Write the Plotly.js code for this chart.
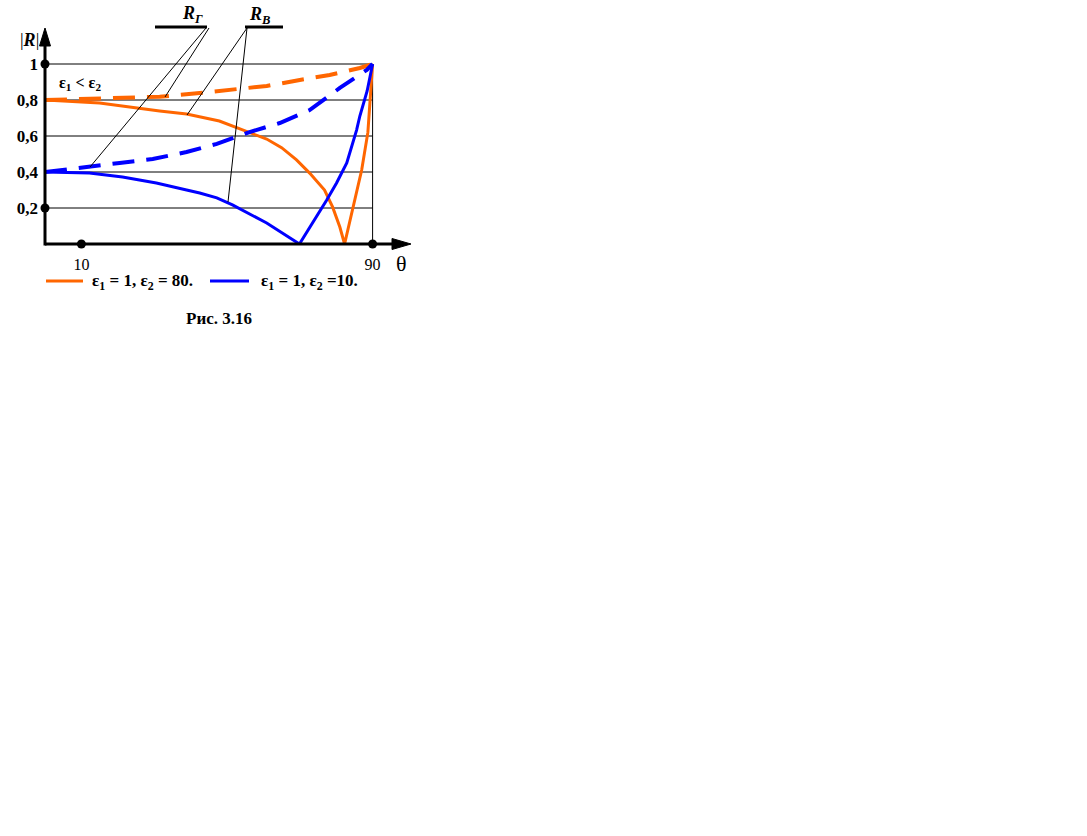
<!DOCTYPE html>
<html><head><meta charset="utf-8">
<script src="https://cdn.plot.ly/plotly-3.0.1.min.js"></script>
<style>html,body{margin:0;padding:0;background:#fff}#chart{width:1087px;height:836px}</style>
</head><body><div id="chart"></div>
<script>
// data (theta in degrees, |R|)
const thetaOrangeSolid = [0, 15, 31.5, 38.9, 47.9, 54.3, 60.9, 65, 69.1, 72.7, 76.8, 79, 81, 82.3, 84.5, 87, 88.7, 90];
const orangeSolid      = [0.8, 0.783, 0.739, 0.722, 0.683, 0.633, 0.583, 0.535, 0.467, 0.394, 0.30, 0.206, 0.094, 0, 0.189, 0.411, 0.62, 1.0];
const thetaOrangeDash  = [0, 15, 31.5, 42.5, 53.5, 60.9, 70, 78.2, 86.5, 90];
const orangeDash       = [0.8, 0.806, 0.818, 0.839, 0.861, 0.878, 0.911, 0.939, 0.978, 1.0];
const thetaBlueSolid   = [0, 12.2, 21.3, 30.6, 38.9, 42.5, 47.2, 51.5, 60.9, 69.9, 77.4, 80.1, 82.9, 85.6, 86.5, 88.5, 90];
const blueSolid        = [0.4, 0.394, 0.372, 0.339, 0.3, 0.283, 0.256, 0.217, 0.117, 0, 0.244, 0.339, 0.45, 0.633, 0.711, 0.85, 1.0];
const thetaBlueDash    = [0, 4.8, 10.3, 20.5, 29.6, 38.9, 47.2, 56.2, 64.5, 72.7, 81, 88.4, 90];
const blueDash         = [0.4, 0.411, 0.422, 0.45, 0.472, 0.511, 0.556, 0.622, 0.672, 0.744, 0.867, 0.967, 1.0];
const yTickVals = [0.2, 0.4, 0.6, 0.8, 1];
const yTickText = ['0,2', '0,4', '0,6', '0,8', '1'];
const xTickVals = [10, 90];
const xTickText = ['10', '90'];
const dotX = [0, 0, 10, 90];
const dotY = [1, 0.2, 0, 0];
const gridLevels = [0.2, 0.4, 0.6, 0.8, 1];
const legendOrange = 'ε<sub>1</sub> = 1, ε<sub>2</sub> = 80.';
const legendBlue = 'ε<sub>1</sub> = 1, ε<sub>2</sub> =10.';

const ORANGE = '#ff6600', BLUE = '#0000ff';
const FONT = 'Liberation Serif, Times New Roman, serif';
// pixel -> paper helpers (plot area: left 45, width 364, top 19, height 225)
const PX = p => (p - 45) / 364;
const PY = p => (244 - p) / 225;

const traces = [
  {x: thetaOrangeSolid, y: orangeSolid, mode: 'lines', line: {color: ORANGE, width: 3}, showlegend: false, hoverinfo: 'skip'},
  {x: thetaOrangeDash, y: orangeDash, mode: 'lines', line: {color: ORANGE, width: 4, dash: '22px,12px'}, showlegend: false, hoverinfo: 'skip'},
  {x: thetaBlueSolid, y: blueSolid, mode: 'lines', line: {color: BLUE, width: 3}, showlegend: false, hoverinfo: 'skip'},
  {x: thetaBlueDash, y: blueDash, mode: 'lines', line: {color: BLUE, width: 4, dash: '22px,12px'}, showlegend: false, hoverinfo: 'skip'},
  {x: dotX, y: dotY, mode: 'markers', marker: {color: 'black', size: 9}, cliponaxis: false, showlegend: false, hoverinfo: 'skip'}
];

const shapes = [];
gridLevels.forEach(v => shapes.push({type: 'line', xref: 'x', yref: 'y', x0: 0, x1: 90, y0: v, y1: v, line: {color: 'black', width: 1}, layer: 'below'}));
shapes.push({type: 'line', xref: 'x', yref: 'y', x0: 90, x1: 90, y0: 0, y1: 1, line: {color: 'black', width: 1}, layer: 'below'});
// axes with arrows
shapes.push({type: 'line', xref: 'paper', yref: 'paper', x0: PX(45), x1: PX(394), y0: PY(244), y1: PY(244), line: {color: 'black', width: 3}});
shapes.push({type: 'path', xref: 'paper', yref: 'paper', path: `M ${PX(392)} ${PY(238.5)} L ${PX(411)} ${PY(244)} L ${PX(392)} ${PY(249.5)} Z`, fillcolor: 'black', line: {color: 'black', width: 1}});
shapes.push({type: 'line', xref: 'paper', yref: 'paper', x0: PX(45), x1: PX(45), y0: PY(245.5), y1: PY(44), line: {color: 'black', width: 3}});
shapes.push({type: 'path', xref: 'paper', yref: 'paper', path: `M ${PX(39.5)} ${PY(46)} L ${PX(45)} ${PY(28)} L ${PX(50.5)} ${PY(46)} Z`, fillcolor: 'black', line: {color: 'black', width: 1}});
// leader labels
shapes.push({type: 'line', xref: 'paper', yref: 'paper', x0: PX(155), x1: PX(207), y0: PY(27), y1: PY(27), line: {color: 'black', width: 3}});
shapes.push({type: 'line', xref: 'paper', yref: 'paper', x0: PX(245), x1: PX(283), y0: PY(27), y1: PY(27), line: {color: 'black', width: 3}});
const leader = (ax, ay, bx, by) => shapes.push({type: 'line', xref: 'paper', yref: 'paper', x0: PX(ax), y0: PY(ay), x1: PX(bx), y1: PY(by), line: {color: 'black', width: 1}});
leader(206, 28, 90, 167);
leader(209, 28, 165, 97);
leader(247, 28, 187, 115);
leader(247, 28, 228, 202);
// legend samples
shapes.push({type: 'line', xref: 'paper', yref: 'paper', x0: PX(46), x1: PX(83), y0: PY(281), y1: PY(281), line: {color: ORANGE, width: 3}});
shapes.push({type: 'line', xref: 'paper', yref: 'paper', x0: PX(210), x1: PX(249), y0: PY(281), y1: PY(281), line: {color: BLUE, width: 3}});

const ann = (px, py, text, size, opts) => Object.assign({xref: 'paper', yref: 'paper', x: PX(px), y: PY(py), text: text, showarrow: false, font: {family: FONT, size: size, color: 'black'}, xanchor: 'center', yanchor: 'middle'}, opts || {});
const annotations = [
  ann(29, 40, '|<b><i>R</i></b>|', 18),
  ann(401, 263, 'θ', 22),
  ann(57, 83, '<b>ε<sub>1</sub> &lt; ε<sub>2</sub></b>', 16, {xanchor: 'left'}),
  ann(192, 14, '<b><i>R<sub>Г</sub></i></b>', 18),
  ann(259, 15, '<b><i>R<sub>B</sub></i></b>', 18),
  ann(90, 282, '<b>' + legendOrange + '</b>', 17, {xanchor: 'left'}),
  ann(259, 282, '<b>' + legendBlue + '</b>', 17, {xanchor: 'left'}),
  ann(219, 318, '<b>Рис. 3.16</b>', 17)
];

const layout = {
  width: 1087, height: 836,
  margin: {l: 45, r: 678, t: 19, b: 592, autoexpand: false},
  paper_bgcolor: 'white', plot_bgcolor: 'rgba(0,0,0,0)',
  showlegend: false,
  xaxis: {range: [0, 100], showgrid: false, zeroline: false, showline: false, ticks: '',
          tickvals: xTickVals, ticktext: xTickText, ticklabelstandoff: 9,
          tickfont: {family: FONT, size: 16, color: 'black'}, fixedrange: true},
  yaxis: {range: [0, 1.25], showgrid: false, zeroline: false, showline: false, ticks: '',
          tickvals: yTickVals, ticktext: yTickText.map(t => '<b>' + t + '</b>'), ticklabelstandoff: 6,
          tickfont: {family: FONT, size: 17, color: 'black'}, fixedrange: true},
  shapes: shapes,
  annotations: annotations
};
Plotly.newPlot('chart', traces, layout, {staticPlot: true, displayModeBar: false});
</script>
</body></html>
